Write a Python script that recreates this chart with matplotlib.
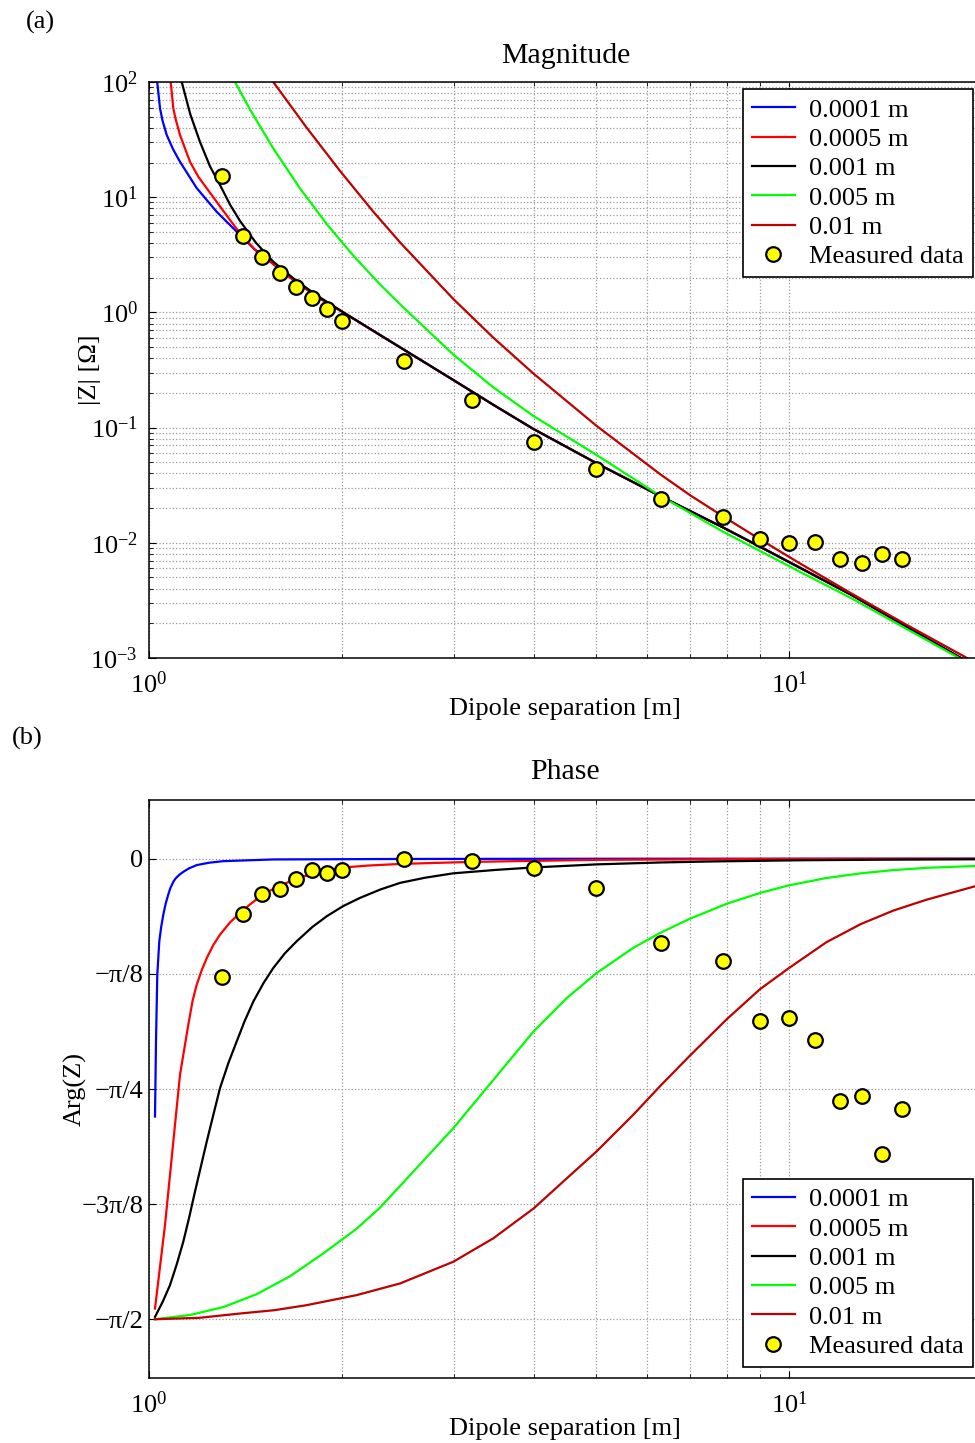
import numpy as np
import matplotlib
matplotlib.use('Agg')
import matplotlib.pyplot as plt
from matplotlib.ticker import LogLocator, NullFormatter, FixedLocator, FixedFormatter

plt.rcParams['font.family'] = ['Liberation Serif', 'DejaVu Serif']
plt.rcParams['mathtext.fontset'] = 'stix'
plt.rcParams['font.size'] = 19

labels = ['0.0001 m', '0.0005 m', '0.001 m', '0.005 m', '0.01 m']
colors = ['#0000ff', '#ff0000', '#000000', '#00ff00', '#bf0000']

# measured data
sep_meas = [1.3, 1.4, 1.5, 1.6, 1.7, 1.8, 1.9, 2.0, 2.5, 3.2, 4.0, 5.0, 6.3, 7.9,
            9.0, 10, 11, 12, 13, 14, 15]
mag_meas = [15.4, 4.63, 3.04, 2.21, 1.66, 1.326, 1.064, 0.847, 0.381, 0.1747, 0.0745,
            0.0435, 0.0239, 0.0169, 0.0108, 0.0100, 0.0102, 0.0073, 0.0067, 0.0080, 0.0072]
phase_meas = [-0.404, -0.187, -0.122, -0.105, -0.071, -0.040, -0.0485, -0.037, 0.0, -0.0085,
              -0.031, -0.100, -0.288, -0.350, -0.552, -0.544, -0.620, -0.828, -0.809,
              -1.007, -0.853]

# model magnitude curves (one per dipole size)
mag_x_1 = [1.030, 1.0404, 1.05, 1.0658, 1.09, 1.118, 1.1872, 1.2756, 1.371, 1.46, 1.564,
           1.7, 1.85, 1.988, 2.296, 2.989, 3.45, 3.985, 5.006, 6.287, 7.886, 9.01, 10.4,
           12.5, 15.07, 18.5, 19.5]
mag_y_1 = [100, 59.1, 46.1, 34.7, 26.2, 20.3, 12.0, 7.48, 5.02, 3.55, 2.63,
           1.82, 1.32, 1.04, 0.6366, 0.2589, 0.158, 0.0975, 0.049, 0.0255, 0.0136, 0.00925,
           0.00608, 0.00355, 0.00195, 0.00101, 0.00086]
mag_x_2 = [1.0812, 1.0914, 1.1, 1.118, 1.1589, 1.195, 1.2309, 1.3066, 1.371, 1.46, 1.564,
           1.7, 1.85, 1.988, 2.296, 2.989, 3.45, 3.985, 5.006, 6.287, 7.886, 9.01, 10.4,
           12.5, 15.07, 18.5, 19.5]
mag_y_2 = [100, 59.1, 48.2, 34.7, 20.3, 14.97, 11.95, 7.6, 5.3, 3.55, 2.63,
           1.82, 1.32, 1.04, 0.6366, 0.2589, 0.158, 0.0975, 0.049, 0.0255, 0.0136, 0.00925,
           0.00608, 0.00355, 0.00195, 0.00101, 0.00086]
mag_x_3 = [1.125, 1.16, 1.201, 1.245, 1.291, 1.34, 1.388, 1.47, 1.564, 1.7, 1.85, 1.988,
           2.296, 2.989, 3.45, 3.985, 5.006, 6.287, 7.886, 9.01, 10.4, 12.5, 15.07, 18.5, 19.5]
mag_y_3 = [100, 52.6, 30.33, 18.6, 12.76, 8.53, 6.2, 4.01, 2.755, 1.877, 1.349, 1.045,
           0.6366, 0.2589, 0.158, 0.0975, 0.049, 0.0255, 0.0136, 0.00925, 0.00608, 0.00355,
           0.00195, 0.00101, 0.00086]
mag_x_4 = [1.3627, 1.4383, 1.564, 1.7212, 1.8957, 2.0856, 2.296, 2.468, 2.989, 3.45, 3.985,
           5.006, 6.287, 7.886, 9.01, 10.4, 12.5, 15.07, 18.5, 19.5]
mag_y_4 = [100, 57.7, 26.5, 11.95, 5.84, 3.11, 1.75, 1.176, 0.43, 0.224, 0.1265,
           0.0578, 0.0256, 0.0125, 0.0085, 0.0056, 0.00332, 0.00186, 0.00099, 0.00084]
mag_x_5 = [1.564, 1.763, 1.988, 2.241, 2.468, 2.989, 3.45, 3.985, 5.006, 6.287, 7.0, 7.886,
           9.01, 10.4, 12.5, 15.07, 18.5, 19.5]
mag_y_5 = [100, 40.2, 16.93, 7.49, 4.05, 1.307, 0.605, 0.2955, 0.1034, 0.0395, 0.02597,
           0.01698, 0.01072, 0.00663, 0.00365, 0.00202, 0.00108, 0.00092]

# model phase curves
ph_x_1 = [1.0218, 1.0255, 1.0303, 1.0377, 1.045, 1.0528, 1.062, 1.0719, 1.08, 1.0914, 1.10,
          1.115, 1.1313, 1.155, 1.1872, 1.24, 1.3066, 1.564, 2.5, 5.0, 10.0, 20.0]
ph_y_1 = [-0.8793, -0.6232, -0.3954, -0.2817, -0.232, -0.191, -0.153, -0.122, -0.100, -0.079,
          -0.068, -0.055, -0.045, -0.033, -0.022, -0.014, -0.0085, -0.0027, -0.001, -0.0003,
          -0.0001, 0.0]
ph_x_2 = [1.0218, 1.0593, 1.0914, 1.118, 1.1519, 1.17, 1.1872, 1.209, 1.2309, 1.26, 1.291,
          1.339, 1.3875, 1.438, 1.4909, 1.546, 1.6025, 1.7011, 1.796, 1.988, 2.2, 2.468,
          3.197, 5.006, 10.0, 20.0]
ph_y_2 = [-1.534, -1.249, -0.965, -0.737, -0.566, -0.484, -0.430, -0.380, -0.339, -0.295,
          -0.259, -0.217, -0.185, -0.156, -0.130, -0.109, -0.092, -0.068, -0.052, -0.031,
          -0.0235, -0.018, -0.011, -0.004, -0.001, -0.0003]
ph_x_3 = [1.0218, 1.05, 1.0785, 1.105, 1.1313, 1.155, 1.1799, 1.2309, 1.26, 1.291, 1.33,
          1.371, 1.41, 1.456, 1.51, 1.564, 1.63, 1.7011, 1.80, 1.8957, 2.01, 2.1357, 2.3,
          2.468, 2.7, 2.989, 3.5, 3.99, 5.006, 6.3, 7.6, 10.4, 14.0, 20.0]
ph_y_3 = [-1.5623, -1.512, -1.454, -1.383, -1.3061, -1.225, -1.1354, -0.9647, -0.875,
          -0.7826, -0.698, -0.6232, -0.555, -0.4866, -0.424, -0.3728, -0.323, -0.2817,
          -0.233, -0.1963, -0.162, -0.1339, -0.105, -0.0826, -0.065, -0.050, -0.038, -0.030,
          -0.0195, -0.013, -0.0095, -0.0055, -0.0035, -0.002]
ph_x_4 = [1.0218, 1.1589, 1.3066, 1.4731, 1.6605, 1.8723, 2.1105, 2.296, 2.588, 2.989, 3.45,
          3.99, 4.496, 5.006, 5.707, 6.287, 7.0, 7.99, 9.01, 10.0, 11.44, 12.95, 14.56, 16.5,
          19.55]
ph_y_4 = [-1.5705, -1.556, -1.529, -1.485, -1.424, -1.346, -1.262, -1.19, -1.0671, -0.9192,
          -0.755, -0.589, -0.4753, -0.39, -0.3046, -0.2534, -0.205, -0.154, -0.117, -0.091,
          -0.066, -0.050, -0.039, -0.031, -0.025]
ph_x_5 = [1.0218, 1.2, 1.3875, 1.57, 1.763, 2.1105, 2.468, 2.989, 3.45, 3.9917, 4.496, 5.006,
          5.707, 6.287, 7.0, 7.99, 9.01, 10.0, 11.44, 12.95, 14.56, 16.4, 19.55]
ph_y_5 = [-1.5705, -1.5655, -1.5509, -1.5396, -1.5225, -1.4882, -1.4484, -1.3744, -1.2948,
          -1.1924, -1.09, -0.998, -0.874, -0.776, -0.672, -0.548, -0.445, -0.373, -0.285,
          -0.223, -0.177, -0.140, -0.094]

mag_x = [mag_x_1, mag_x_2, mag_x_3, mag_x_4, mag_x_5]
mag_y = [mag_y_1, mag_y_2, mag_y_3, mag_y_4, mag_y_5]
ph_x = [ph_x_1, ph_x_2, ph_x_3, ph_x_4, ph_x_5]
ph_y = [ph_y_1, ph_y_2, ph_y_3, ph_y_4, ph_y_5]

W, H = 975, 1443
fig = plt.figure(figsize=(W / 100, H / 100), dpi=100)
ax1 = fig.add_axes([149 / W, 1 - 658 / H, 832.6 / W, 576 / H])
ax2 = fig.add_axes([149 / W, 1 - 1378 / H, 832.6 / W, 578 / H])

grid_kw = dict(linestyle=':', color='#9a9a9a', linewidth=0.9)

# magnitude
for xs, ys, c, lab in zip(mag_x, mag_y, colors, labels):
    ax1.plot(xs, ys, color=c, lw=1.6, label=lab)
ax1.plot(sep_meas, mag_meas, 'o', color='yellow', mec='black', mew=1.6, ms=10.5,
         label='Measured data')
ax1.set_xscale('log')
ax1.set_yscale('log')
ax1.set_xlim(1, 20)
ax1.set_ylim(1e-3, 1e2)
ax1.yaxis.set_major_locator(LogLocator(base=10, numticks=10))
ax1.yaxis.set_minor_locator(LogLocator(base=10, subs=np.arange(2, 10), numticks=20))
ax1.xaxis.set_minor_formatter(NullFormatter())
ax1.yaxis.set_minor_formatter(NullFormatter())
ax1.grid(True, which='both', **grid_kw)
ax1.set_title('Magnitude', fontsize=21.5, pad=14)
ax1.set_xlabel('Dipole separation [m]', fontsize=19, labelpad=0)
ax1.set_ylabel('|Z| [Ω]', fontsize=19, va='center')
ax1.yaxis.set_label_coords((90 - 149) / 832.6, 0.5)

# phase
for xs, ys, c, lab in zip(ph_x, ph_y, colors, labels):
    ax2.plot(xs, ys, color=c, lw=1.6, label=lab)
ax2.plot(sep_meas, phase_meas, 'o', color='yellow', mec='black', mew=1.6, ms=10.5,
         label='Measured data')
ax2.set_xscale('log')
ax2.set_xlim(1, 20)
ax2.set_ylim(-np.pi / 2 - 0.2, 0.2)
ph_ticks = [-np.pi / 2, -3 * np.pi / 8, -np.pi / 4, -np.pi / 8, 0]
ax2.yaxis.set_major_locator(FixedLocator(ph_ticks))
ax2.yaxis.set_major_formatter(FixedFormatter(['\u2212\u03c0/2', '\u22123\u03c0/8',
                                              '\u2212\u03c0/4', '\u2212\u03c0/8', '0']))
ax2.xaxis.set_minor_formatter(NullFormatter())
ax2.grid(True, which='major', axis='y', **grid_kw)
ax2.grid(True, which='both', axis='x', **grid_kw)
ax2.set_title('Phase', fontsize=21.5, pad=15)
ax2.set_xlabel('Dipole separation [m]', fontsize=19, labelpad=0)
ax2.set_ylabel('Arg(Z)', fontsize=19, va='center')
ax2.yaxis.set_label_coords((75 - 149) / 832.6, 0.5)

for ax in (ax1, ax2):
    ax.tick_params(which='both', direction='in', top=True, right=True, labelsize=19)
    ax.tick_params(which='major', length=5, pad=8)
    ax.tick_params(which='minor', length=3)
    ax.tick_params(axis='x', which='major', pad=10)
    for sp in ax.spines.values():
        sp.set_linewidth(1.1)
ax2.tick_params(axis='y', which='major', pad=4)

leg_kw = dict(fontsize=19, fancybox=False, edgecolor='black', framealpha=1,
              handlelength=1.6, handletextpad=0.55, labelspacing=0.22, borderpad=0.35,
              borderaxespad=0)
l1 = ax1.legend(loc='upper right', bbox_to_anchor=(0.9897, 0.9878), **leg_kw)
l2 = ax2.legend(loc='lower right', bbox_to_anchor=(0.9897, 0.019), **leg_kw)
for lg in (l1, l2):
    lg.get_frame().set_linewidth(1.2)

fig.text(40 / W, 1 - 22 / H, '(a)', fontsize=19, ha='center', va='center')
fig.text(27 / W, 1 - 738 / H, '(b)', fontsize=19, ha='center', va='center')

fig.savefig('out.png', dpi=100)
